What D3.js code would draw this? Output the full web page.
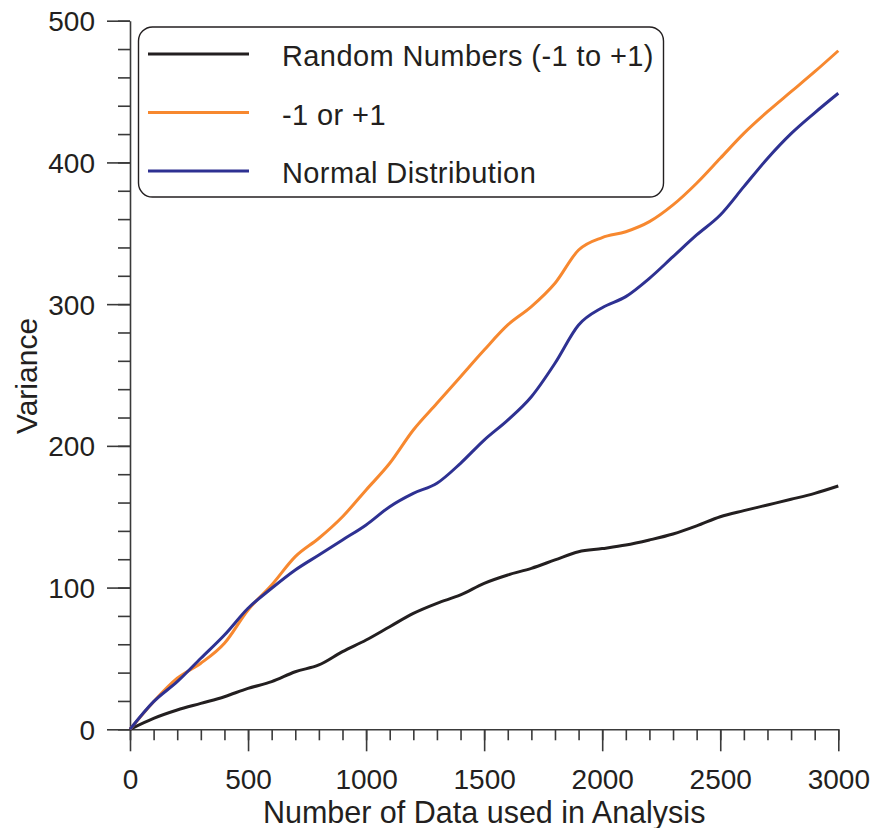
<!DOCTYPE html>
<html>
<head>
<meta charset="utf-8">
<script src="https://cdn.jsdelivr.net/npm/d3@7"></script>
<style>
  body { margin: 0; background: #fff; }
  text { font-family: "Liberation Sans", Arial, sans-serif; fill: #231f20; }
</style>
</head>
<body>
<div id="canvas"></div>
<script>
// values, one per 100 data points
var counts = d3.range(0, 3001, 100);
var randomNums = [0, 7.7, 13.6, 18.3, 23, 28.9, 33.6, 40.6, 45.4, 54.8, 63,
  72.4, 81.8, 88.9, 94.8, 103, 108.9, 113.6, 119.5, 125.3, 127.5,
  130, 133.6, 137.8, 143.5, 150, 154.3, 158.3, 162.3, 166.5, 171.7];
var plusMinusOne = [0, 19.5, 36, 46.6, 60.7, 84.2, 101.8, 121.8, 134.8, 150, 168.9,
  187.7, 211.2, 230, 248.8, 267.6, 285.3, 298.2, 314.7, 338.2, 347,
  351.1, 358.2, 370, 385.3, 402.9, 420.5, 435.8, 449.9, 464, 478.8];
var normalDist = [0, 19.5, 33.6, 50.1, 66.5, 85.4, 99.5, 112.4, 123, 133.6, 144.2,
  157.1, 166.5, 173.6, 187.7, 204.1, 218.2, 234.7, 258.3, 285.3, 297.5,
  305.3, 318.2, 333.5, 348.8, 362.9, 382.9, 402.8, 420.3, 435, 448.8];
var seriesNames = ['Random Numbers (-1 to +1)', '-1 or +1', 'Normal Distribution'];
var seriesColors = ['#231f20', '#f7882f', '#2e3192'];
var xTicks = [0, 500, 1000, 1500, 2000, 2500, 3000];
var yTicks = [0, 100, 200, 300, 400, 500];

var svg = d3.select('#canvas').append('svg')
  .attr('width', 873)
  .attr('height', 828);

var x = d3.scaleLinear().domain([0, 3000]).range([130, 838.3]);
var y = d3.scaleLinear().domain([0, 500]).range([729.3, 20.7]);

// minor ticks first, then the major ones with labels
svg.append('g')
  .attr('transform', 'translate(0,' + y(0) + ')')
  .call(d3.axisBottom(x).tickValues(d3.range(0, 3001, 100)).tickSize(11).tickFormat(''))
  .call(function(g) { g.select('.domain').remove(); });
svg.append('g')
  .attr('transform', 'translate(' + x(0) + ',0)')
  .call(d3.axisLeft(y).tickValues(d3.range(0, 501, 20)).tickSize(12).tickFormat(''))
  .call(function(g) { g.select('.domain').remove(); });

var xAxis = svg.append('g')
  .attr('transform', 'translate(0,' + y(0) + ')')
  .call(d3.axisBottom(x).tickValues(xTicks).tickSize(22).tickSizeOuter(0)
    .tickPadding(18).tickFormat(d3.format('d')));
var yAxis = svg.append('g')
  .attr('transform', 'translate(' + x(0) + ',0)')
  .call(d3.axisLeft(y).tickValues(yTicks).tickSize(23).tickSizeOuter(0)
    .tickPadding(12).tickFormat(d3.format('d')));

svg.selectAll('.tick line, .domain')
  .attr('stroke', '#3a3a3a')
  .attr('stroke-width', 1.6);
xAxis.selectAll('text').attr('font-size', 28).attr('dy', '0.71em');
yAxis.selectAll('text').attr('font-size', 28).attr('dy', '0.36em');

svg.append('text')
  .attr('x', (x(0) + x(3000)) / 2)
  .attr('y', 823)
  .attr('text-anchor', 'middle')
  .attr('font-size', 30.5)
  .text('Number of Data used in Analysis');

svg.append('text')
  .attr('transform', 'translate(37,' + 376 + ') rotate(-90)')
  .attr('text-anchor', 'middle')
  .attr('font-size', 30)
  .text('Variance');

var allSeries = [randomNums, plusMinusOne, normalDist];

var line = d3.line()
  .x(function(d, i) { return x(counts[i]); })
  .y(function(d) { return y(d); })
  .curve(d3.curveMonotoneX);

svg.selectAll('path.series').data(allSeries)
  .enter().append('path')
  .attr('class', 'series')
  .attr('fill', 'none')
  .attr('stroke', function(d, i) { return seriesColors[i]; })
  .attr('stroke-width', 3)
  .attr('d', line);

// legend
var legend = svg.append('g');
legend.append('rect')
  .attr('x', 138.5).attr('y', 27)
  .attr('width', 525).attr('height', 170)
  .attr('rx', 14).attr('ry', 14)
  .attr('fill', '#fff')
  .attr('stroke', '#231f20')
  .attr('stroke-width', 1.4);

var rows = legend.selectAll('g.row').data(seriesNames)
  .enter().append('g')
  .attr('class', 'row')
  .attr('transform', function(d, i) { return 'translate(0,' + (54 + i * 58.5) + ')'; });
rows.append('line')
  .attr('x1', 148).attr('x2', 249)
  .attr('stroke', function(d, i) { return seriesColors[i]; })
  .attr('stroke-width', 3);
rows.append('text')
  .attr('x', 282)
  .attr('y', 12)
  .attr('font-size', 29)
  .attr('letter-spacing', 0.4)
  .text(function(d) { return d; });
</script>
</body>
</html>
